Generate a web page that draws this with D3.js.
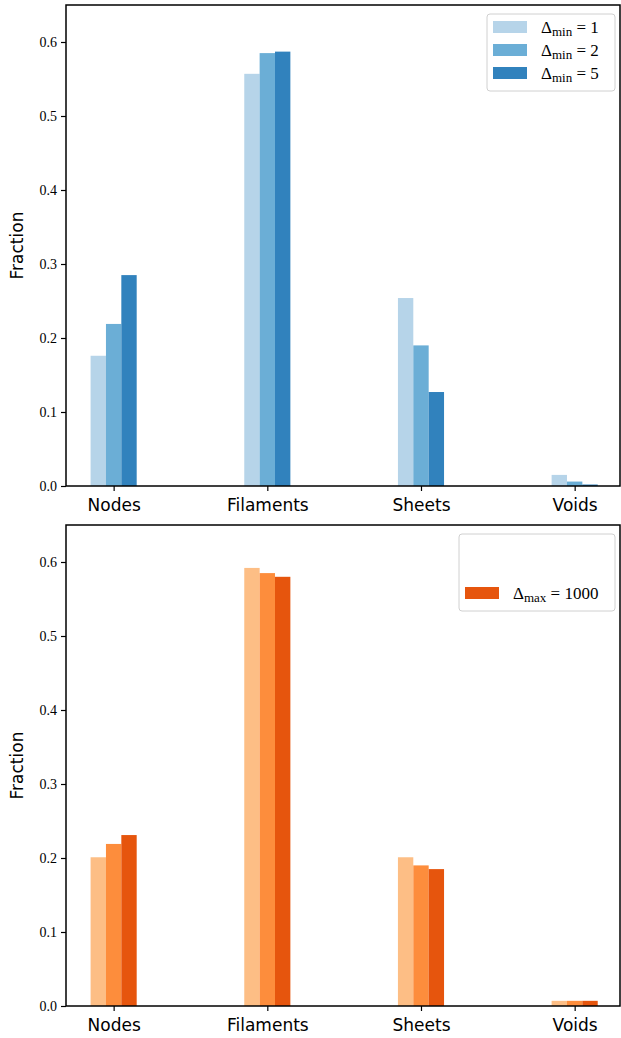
<!DOCTYPE html>
<html>
<head>
<meta charset="utf-8">
<script src="https://cdn.jsdelivr.net/npm/d3@7"></script>
<style>
  body { margin: 0; background: #fff; }
  svg { display: block; }
</style>
</head>
<body>
<div id="chart"></div>
<script>
const categories = ['Nodes', 'Filaments', 'Sheets', 'Voids']
const yTicks = [0, 0.1, 0.2, 0.3, 0.4, 0.5, 0.6]

// top panel: Delta_min runs
const minLabels = ['1', '2', '5']
const minColors = ['#b6d4e9', '#6baed6', '#3182bd']
const minValues = [
  [0.176, 0.557, 0.254, 0.015],
  [0.219, 0.585, 0.190, 0.006],
  [0.285, 0.587, 0.127, 0.002]
]

// bottom panel: Delta_max runs (only the last one is labelled)
const maxLabels = ['', '', '1000']
const maxColors = ['#fdbe85', '#fd8d3c', '#e6550d']
const maxValues = [
  [0.201, 0.592, 0.201, 0.007],
  [0.219, 0.585, 0.190, 0.007],
  [0.231, 0.580, 0.185, 0.007]
]

const W = 621
const H = 1038
const serif = "'Liberation Serif', 'DejaVu Serif', serif"
const sans = "'DejaVu Sans', sans-serif"

const svg = d3
  .select('#chart')
  .append('svg')
  .attr('width', W)
  .attr('height', H)

const xPositionScale = d3
  .scaleLinear()
  .domain([-0.31, 3.295])
  .range([66, 620])

function drawPanel(top, bottom, values, colors, sub, labels, legendBox) {
  const g = svg.append('g')

  const yPositionScale = d3
    .scaleLinear()
    .domain([0, 0.65])
    .range([bottom, top])

  const barW = xPositionScale(0.1) - xPositionScale(0)

  // BARS
  values.forEach((series, s) => {
    g.selectAll('.bar-' + s)
      .data(series)
      .enter()
      .append('rect')
      .attr('class', 'bar-' + s)
      .attr('x', (d, i) => xPositionScale(i + (s - 1) * 0.1 - 0.05))
      .attr('width', barW)
      .attr('y', d => yPositionScale(d))
      .attr('height', d => yPositionScale(0) - yPositionScale(d))
      .attr('fill', colors[s])
  })

  // AXES
  const yAxis = d3.axisLeft(yPositionScale)
    .tickValues(yTicks)
    .tickFormat(d3.format('.1f'))
    .tickSize(5)
    .tickPadding(4)
  const ya = g.append('g')
    .attr('class', 'axis y-axis')
    .attr('transform', 'translate(' + xPositionScale.range()[0] + ',0)')
    .call(yAxis)
  ya.select('.domain').remove()
  ya.selectAll('text')
    .attr('font-family', serif)
    .attr('font-size', 14)
    .attr('fill', '#000')
  ya.selectAll('line').attr('stroke', '#000').attr('stroke-width', 1.2)

  const xAxis = d3.axisBottom(xPositionScale)
    .tickValues([0, 1, 2, 3])
    .tickFormat(i => categories[i])
    .tickSize(5)
    .tickPadding(8)
  const xa = g.append('g')
    .attr('class', 'axis x-axis')
    .attr('transform', 'translate(0,' + bottom + ')')
    .call(xAxis)
  xa.select('.domain').remove()
  xa.selectAll('text')
    .attr('font-family', sans)
    .attr('font-size', 17)
    .attr('fill', '#000')
  xa.selectAll('line').attr('stroke', '#000').attr('stroke-width', 1.2)

  // frame
  g.append('rect')
    .attr('x', xPositionScale.range()[0])
    .attr('y', top)
    .attr('width', xPositionScale.range()[1] - xPositionScale.range()[0])
    .attr('height', bottom - top)
    .attr('fill', 'none')
    .attr('stroke', '#000')
    .attr('stroke-width', 1.5)

  g.append('text')
    .attr('transform', 'translate(23,' + (top + bottom) / 2 + ') rotate(-90)')
    .attr('text-anchor', 'middle')
    .attr('font-family', sans)
    .attr('font-size', 17)
    .text('Fraction')

  // LEGEND
  const lg = g.append('g')
  lg.append('rect')
    .attr('x', legendBox.x)
    .attr('y', legendBox.y)
    .attr('width', legendBox.w)
    .attr('height', legendBox.h)
    .attr('rx', 3)
    .attr('fill', '#fff')
    .attr('fill-opacity', 0.8)
    .attr('stroke', '#d0d0d0')

  labels.forEach((lab, s) => {
    if (lab === '') return
    const cy = legendBox.y + 13 + s * 23
    lg.append('rect')
      .attr('x', legendBox.x + 6)
      .attr('y', cy - 6)
      .attr('width', 34)
      .attr('height', 12)
      .attr('fill', colors[s])
    const t = lg.append('text')
      .attr('x', legendBox.x + 54)
      .attr('y', cy + 6)
      .attr('font-family', serif)
      .attr('font-size', 17)
    t.append('tspan').text('\u0394')
    t.append('tspan').attr('font-size', 13).attr('dy', 3).text(sub)
    t.append('tspan').attr('dy', -3).text(' = ' + lab)
  })
}

drawPanel(5, 486, minValues, minColors, 'min', minLabels, {x: 487, y: 14, w: 128, h: 77})
drawPanel(525, 1006, maxValues, maxColors, 'max', maxLabels, {x: 459, y: 534, w: 156, h: 77})
</script>
</body>
</html>
